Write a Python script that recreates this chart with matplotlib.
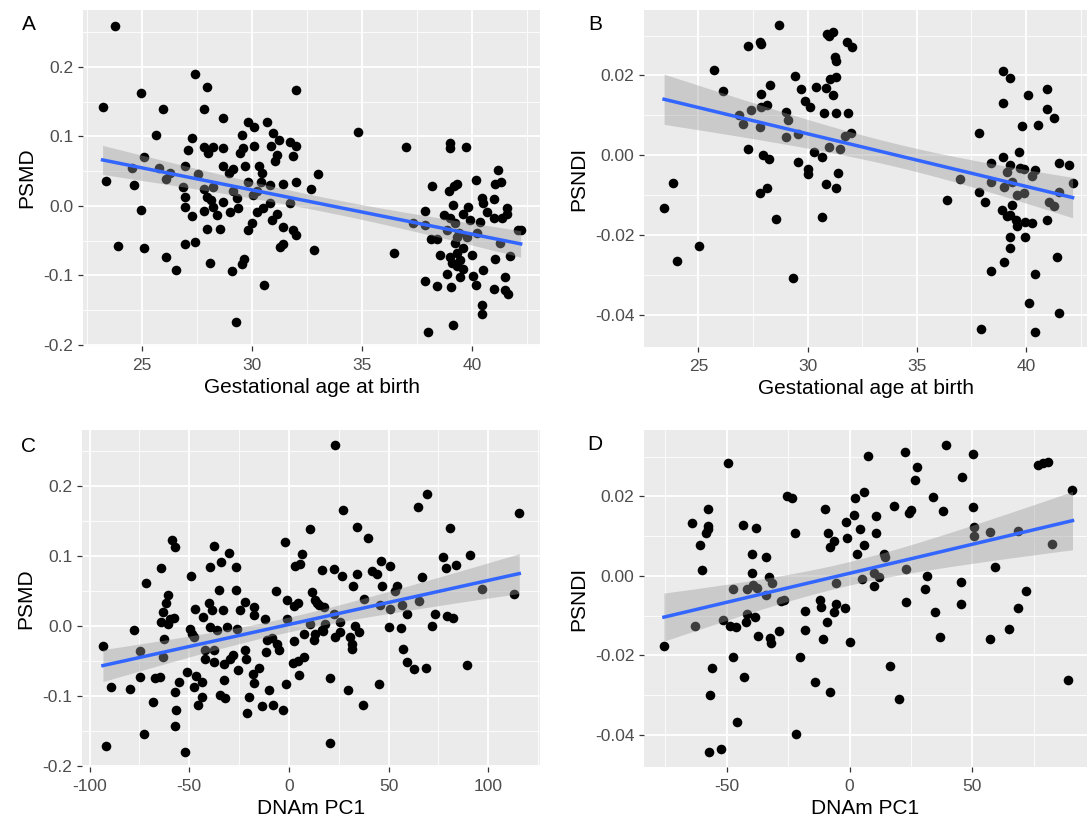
import numpy as np
import matplotlib
matplotlib.use("Agg")
import matplotlib.pyplot as plt
from matplotlib.ticker import FixedLocator

plt.rcParams['font.family'] = ['Liberation Sans', 'DejaVu Sans']

# ---------------- data ----------------
a_x = [23.77,23.21,23.36,23.92,24.53,24.65,24.95,24.95,25.09,25.09,25.64,25.79,25.95,26.08,26.27,26.10,26.53,
       26.85,26.97,26.97,26.97,26.97,27.10,27.26,27.26,27.41,27.55,27.39,27.97,27.82,27.83,28.00,28.24,28.67,
       28.67,28.67,27.82,27.94,28.14,27.82,28.24,28.39,27.97,28.55,28.09,28.67,29.00,29.11,29.27,28.94,29.12,
       29.30,29.38,29.53,29.45,29.67,29.58,29.64,29.55,29.83,30.09,30.09,29.83,29.83,29.98,30.21,30.33,30.47,
       30.39,30.48,30.55,30.67,30.97,30.85,31.23,31.05,31.12,30.82,30.82,30.89,31.12,31.39,31.42,31.27,31.39,
       31.73,31.73,32.00,31.85,32.00,32.00,31.88,32.00,32.67,33.02,32.82,30.06,29.15,30.21,28.24,
       34.83,37.00,39.00,39.00,39.73,36.44,37.30,38.17,37.88,37.86,38.12,38.39,37.85,38.42,38.00,39.15,39.03,
       38.85,38.55,38.73,38.97,39.18,39.30,39.15,39.00,39.23,39.42,39.23,39.00,39.08,39.30,39.58,39.45,39.60,
       39.60,39.83,39.90,40.02,40.03,40.17,40.18,40.44,40.52,40.36,40.48,40.45,40.44,40.67,41.02,41.02,41.05,
       41.18,41.32,41.35,41.60,41.58,41.27,41.05,41.48,41.73,41.02,41.50,41.65,42.08,42.21,40.21,39.30,39.76,
       38.85,39.30,39.45]
a_y = [0.259,0.142,0.036,-0.057,0.054,0.030,0.162,-0.006,0.071,-0.061,0.102,0.055,0.140,0.039,0.047,-0.074,-0.092,
       0.028,0.057,0.013,-0.002,-0.055,0.080,0.098,-0.015,-0.052,0.046,0.190,0.171,0.140,0.085,0.076,0.085,0.083,
       0.127,0.058,0.024,0.013,0.009,-0.007,-0.001,-0.013,-0.033,-0.033,-0.082,0.006,-0.009,-0.093,-0.167,0.047,0.053,
       0.011,-0.003,0.102,0.076,0.057,0.083,-0.077,-0.084,0.121,0.114,0.087,0.034,-0.035,-0.025,-0.009,0.057,0.048,
       0.035,-0.003,-0.114,0.121,0.105,0.087,0.095,0.064,0.073,0.030,0.004,-0.020,-0.011,0.031,-0.030,-0.059,-0.055,
       0.004,0.092,0.087,0.072,0.167,0.034,-0.035,-0.042,0.024,0.046,-0.063,0.016,0.021,0.021,0.028,
       0.106,0.085,0.090,0.083,0.085,-0.068,-0.024,0.029,-0.007,-0.028,-0.047,-0.047,-0.108,-0.115,-0.181,-0.172,-0.116,
       -0.098,-0.071,-0.013,0.022,0.029,0.031,0.001,-0.018,-0.025,-0.039,-0.054,-0.073,-0.082,-0.087,-0.090,-0.102,-0.061,
       -0.011,-0.001,-0.020,-0.070,-0.101,-0.114,0.037,0.011,0.004,-0.023,-0.092,-0.143,-0.155,-0.008,0.010,-0.018,0.032,
       0.052,0.035,-0.018,-0.003,-0.011,-0.054,-0.077,-0.102,-0.072,-0.119,-0.121,-0.126,-0.034,-0.035,-0.039,-0.044,-0.044,
       -0.035,-0.068,-0.078]

b_x = [28.69,27.29,27.82,27.85,25.70,26.13,28.28,27.85,29.43,29.70,29.89,30.11,30.39,26.88,27.02,27.40,27.85,28.13,
       27.82,29.00,29.12,29.00,29.55,27.29,27.98,28.25,29.58,30.00,30.03,30.30,27.82,28.16,28.57,29.31,23.85,23.43,
       24.01,25.03,
       30.88,31.15,31.00,31.26,31.29,30.85,31.15,31.03,31.29,30.73,31.29,31.87,31.82,32.03,31.98,31.72,31.00,31.46,
       30.65,31.41,30.85,31.29,30.65,37.84,38.94,39.28,38.94,40.10,40.97,40.97,41.26,39.81,40.55,39.66,38.94,38.41,
       39.25,39.71,39.89,40.42,40.27,39.13,41.52,41.95,42.13,41.53,41.03,41.26,36.99,38.39,38.97,39.35,36.38,37.84,
       38.10,39.58,39.89,38.89,39.35,39.28,39.13,39.55,39.58,39.96,40.27,40.95,39.28,39.96,39.28,38.97,38.41,40.42,
       41.42,40.12,41.52,37.96,40.42]
b_y = [0.0327,0.0274,0.0285,0.0278,0.0213,0.0161,0.0176,0.0153,0.0198,0.0165,0.0135,0.0122,0.0171,0.0101,0.0079,
       0.0114,0.0122,0.0126,0.0072,0.0109,0.0089,0.0047,0.0053,0.0016,0.0000,-0.0010,-0.0016,-0.0033,-0.0047,0.0008,
       -0.0094,-0.0081,-0.0160,-0.0308,-0.0069,-0.0133,-0.0264,-0.0227,
       0.0304,0.0310,0.0300,0.0247,0.0237,0.0168,0.0151,0.0190,0.0197,0.0105,0.0107,0.0107,0.0285,0.0272,0.0057,
       0.0048,0.0022,0.0015,-0.0003,-0.0045,-0.0073,-0.0081,-0.0154,0.0055,0.0210,0.0193,0.0132,0.0150,0.0166,0.0116,
       0.0093,0.0074,0.0076,0.0008,-0.0003,-0.0020,-0.0024,-0.0031,-0.0033,-0.0037,-0.0052,-0.0041,-0.0018,-0.0024,
       -0.0069,-0.0093,-0.0118,-0.0126,-0.0059,-0.0066,-0.0080,-0.0066,-0.0113,-0.0093,-0.0118,-0.0099,-0.0094,-0.0137,
       -0.0125,-0.0150,-0.0152,-0.0162,-0.0177,-0.0166,-0.0170,-0.0162,-0.0204,-0.0204,-0.0232,-0.0267,-0.0290,-0.0298,
       -0.0255,-0.0369,-0.0396,-0.0434,-0.0442]

c_x = [-93.3,-92.0,-89.1,-79.6,-77.9,-74.6,-74.9,-72.9,-71.7,-68.4,-67.1,-64.5,-64.2,-63.4,-62.5,-64.0,-63.4,-61.7,
       -60.4,-60.7,-59.5,-58.4,-57.0,-57.5,-57.0,-56.5,-57.0,-55.0,-52.3,-51.2,-49.2,-49.8,-48.8,-47.5,-47.8,-46.8,
       -47.0,-45.8,-43.6,-43.6,-43.1,-42.0,-42.0,-40.3,-39.5,-39.5,-38.5,-37.8,-37.8,-37.8,-36.1,-35.3,-34.4,-33.9,
       -33.1,-32.8,-32.4,-31.9,-31.1,-30.1,-29.4,-27.8,-26.6,-26.6,-26.1,-25.3,-24.7,-21.9,-21.9,-21.6,-21.1,-20.2,
       -17.7,-17.7,-18.1,-17.7,-15.2,-13.5,-11.9,-11.0,-11.5,-10.2,-8.5,-8.0,-6.4,-6.0,-5.2,-3.0,-1.8,-1.3,-1.0,-0.7,
       2.0,2.7,2.8,3.2,4.8,4.8,5.2,5.4,6.5,7.4,7.7,10.7,11.5,12.4,16.6,17.1,13.2,20.7,14.9,17.4,18.2,10.7,14.0,13.2,
       16.5,
       23.2,27.4,34.1,39.6,20.7,22.4,26.9,32.4,34.4,37.9,41.6,44.4,46.1,46.8,45.8,50.8,54.1,53.0,50.8,56.6,59.1,50.4,
       56.3,57.5,59.1,62.8,68.8,65.3,66.7,65.0,69.2,73.3,72.0,77.5,78.9,79.2,82.5,80.9,83.9,90.9,89.5,96.7,112.9,
       115.6,45.3,29.9,37.1,31.6,31.6,30.7,33.2,35.4,25.6,25.4,22.9,22.4]
c_y = [-0.0277,-0.171,-0.0869,-0.0897,-0.0057,-0.0353,-0.0726,-0.1547,0.0625,-0.1084,-0.0735,-0.0726,0.0826,0.0210,
       -0.0177,0.0057,-0.0440,0.0325,0.0453,0.0038,0.0100,0.1230,0.1136,0.0119,-0.0940,-0.1193,-0.1422,-0.0797,-0.1800,
       -0.0654,0.0721,-0.0033,-0.0105,-0.0153,-0.0869,-0.0711,0.0243,-0.1131,-0.1012,-0.0797,0.0134,-0.0344,-0.0463,
       0.0325,0.0850,-0.0010,0.0229,0.1150,-0.0344,-0.0511,-0.0057,0.0516,-0.0988,0.0912,0.0229,-0.0535,-0.0764,-0.1021,
       -0.0010,0.1050,-0.0463,-0.0415,0.0850,0.0516,-0.0033,-0.0621,0.0229,0.0348,-0.0344,-0.0463,-0.1241,-0.1012,
       0.0277,0.0158,-0.0678,-0.0807,-0.0597,-0.1146,0.0110,-0.0200,-0.0368,-0.0916,-0.0167,-0.1131,0.0501,-0.0248,
       -0.0344,-0.1203,0.1198,-0.0821,0.0372,0.0100,-0.0520,-0.0215,0.0291,0.0859,-0.0496,0.0334,-0.0702,0.0897,0.1026,
       -0.0105,-0.0439,0.1389,0.0492,-0.0200,0.0811,-0.0067,0.0372,-0.1666,0.0300,0.0277,0.0038,0.0038,0.0325,-0.0105,
       -0.0057,
       0.2592,0.1661,0.1413,0.1265,-0.0735,0.0816,0.0721,0.0578,0.0754,0.0396,0.0788,0.0754,0.0936,0.0573,0.0301,
       0.0859,0.0573,0.0506,0.0253,0.0301,0.0172,-0.0010,-0.0024,-0.0320,-0.0511,-0.0606,-0.0597,0.0363,0.0706,0.1699,
       0.1885,0.0181,0.0005,0.0993,0.0835,0.0148,0.0119,0.1399,0.0874,0.1017,-0.0558,0.0530,0.0458,0.1623,-0.0831,
       -0.0916,-0.1131,-0.0248,-0.0320,-0.0153,0.0000,-0.0081,0.0062,-0.0081,-0.0153,0.0172]

d_x = [-75.5,-64.2,-62.9,-60.8,-60.0,-58.5,-57.7,-57.5,-57.5,-56.8,-57.0,-55.8,-52.4,-51.4,-49.3,-48.6,-47.6,-47.3,
       -46.3,-45.9,-43.2,-43.0,-42.3,-41.9,-41.9,-39.6,-39.6,-39.2,-38.5,-38.1,-37.5,-37.1,-34.0,-34.0,-32.7,-31.7,
       -32.4,-32.0,-28.6,-28.0,-26.7,-25.3,-23.3,-22.2,-21.8,-20.2,-18.2,-18.2,-14.1,
       -9.9,-8.9,-7.9,-6.5,-11.9,-11.5,-9.2,-10.6,-7.9,-5.4,-6.5,-5.4,-1.8,0.3,-1.4,-1.1,2.0,2.4,4.1,5.7,7.5,5.7,3.0,
       5.0,9.8,10.0,11.8,10.7,10.7,14.1,14.5,16.5,20.2,17.9,22.6,23.0,23.0,24.0,25.1,26.7,27.4,31.4,30.8,34.1,34.8,
       36.9,37.9,39.3,45.3,45.3,45.9,50.4,50.4,50.7,50.7,57.2,57.2,59.2,65.0,68.7,68.7,71.8,76.8,78.9,80.9,82.2,89.0,
       90.7]
d_y = [-0.0176,0.0132,-0.0127,0.0077,0.0014,0.0108,0.0119,0.0126,0.0168,-0.0299,-0.0443,-0.0232,-0.0436,-0.0112,
       0.0285,-0.0127,-0.0204,-0.0032,-0.0128,-0.0369,0.0128,-0.0254,-0.0116,-0.0034,-0.0097,0.0056,0.0008,-0.0024,
       -0.0103,0.0121,-0.0030,-0.0152,0.0048,-0.0047,-0.0003,-0.0019,-0.0156,-0.0170,-0.0139,-0.0063,-0.0060,0.0201,
       0.0196,0.0108,-0.0397,-0.0204,-0.0089,-0.0137,-0.0267,
       0.0168,0.0109,0.0073,0.0087,-0.0061,-0.0078,-0.0117,-0.0160,-0.0292,-0.0019,-0.0092,-0.0070,-0.0080,-0.0166,
       0.0136,0.0094,0.0154,0.0195,0.0117,0.0211,0.0302,0.0077,0.0056,-0.0009,-0.0025,0.0006,-0.0003,0.0151,0.0109,
       0.0056,0.0048,-0.0227,-0.0309,0.0175,0.0312,0.0017,-0.0067,0.0157,0.0165,0.0241,0.0274,-0.0001,-0.0032,0.0199,
       -0.0092,-0.0154,0.0163,0.0329,-0.0015,-0.0072,0.0249,0.0306,0.0172,0.0123,0.0101,0.0111,-0.0160,0.0023,-0.0133,
       -0.0080,0.0113,-0.0039,0.0279,0.0283,0.0287,0.0080,-0.0263,0.0216]

ga_ticks = [25, 30, 35, 40]
pc_ticks_c = [-100, -50, 0, 50, 100]
pc_ticks_d = [-50, 0, 50]
psmd_ticks = [-0.2, -0.1, 0.0, 0.1, 0.2]
psndi_ticks = [-0.04, -0.02, 0.00, 0.02]
psmd_labels = ['-0.2', '-0.1', '0.0', '0.1', '0.2']
psndi_labels = ['-0.04', '-0.02', '0.00', '0.02']

# ---------------- figure ----------------
W, H = 1088, 826
fig = plt.figure(figsize=(W / 100, H / 100), dpi=100)

def box(l, r, t, b):
    return [l / W, 1 - b / H, (r - l) / W, (b - t) / H]

panels = [
    dict(rect=box(83, 540, 10, 346), x=a_x, y=a_y, xlim=(22.32, 43.09), ylim=(-0.2015, 0.282),
         xt=ga_ticks, xm=[22.5, 27.5, 32.5, 37.5, 42.5], yt=psmd_ticks, yl=psmd_labels,
         ym=[-0.15, -0.05, 0.05, 0.15, 0.25], xlab='Gestational age at birth', ylab='PSMD', tag='A',
         tagpos=(29, 25)),
    dict(rect=box(644, 1087, 10, 347), x=b_x, y=b_y, xlim=(22.51, 42.79), ylim=(-0.0480, 0.0364),
         xt=ga_ticks, xm=[22.5, 27.5, 32.5, 37.5, 42.5], yt=psndi_ticks, yl=psndi_labels,
         ym=[-0.03, -0.01, 0.01, 0.03], xlab='Gestational age at birth', ylab='PSNDI', tag='B',
         tagpos=(595, 25)),
    dict(rect=box(82, 540, 430, 767), x=c_x, y=c_y, xlim=(-103.8, 126.0), ylim=(-0.2014, 0.2807),
         xt=pc_ticks_c, xm=[-75, -25, 25, 75, 125], yt=psmd_ticks, yl=psmd_labels,
         ym=[-0.15, -0.05, 0.05, 0.15, 0.25], xlab='DNAm PC1', ylab='PSMD', tag='C',
         tagpos=(29, 446)),
    dict(rect=box(644, 1087, 430, 767), x=d_x, y=d_y, xlim=(-83.6, 96.6), ylim=(-0.0481, 0.0367),
         xt=pc_ticks_d, xm=[-75, -25, 25, 75], yt=psndi_ticks, yl=psndi_labels,
         ym=[-0.03, -0.01, 0.01, 0.03], xlab='DNAm PC1', ylab='PSNDI', tag='D',
         tagpos=(595, 445)),
]

T95 = 1.97

for p in panels:
    ax = fig.add_axes(p['rect'])
    ax.set_facecolor('#EBEBEB')
    for s in ax.spines.values():
        s.set_visible(False)
    ax.set_xlim(*p['xlim'])
    ax.set_ylim(*p['ylim'])
    ax.xaxis.set_major_locator(FixedLocator(p['xt']))
    ax.yaxis.set_major_locator(FixedLocator(p['yt']))
    ax.set_xticklabels([str(t) for t in p['xt']])
    ax.set_yticklabels(p['yl'])
    ax.xaxis.set_minor_locator(FixedLocator(p['xm']))
    ax.yaxis.set_minor_locator(FixedLocator(p['ym']))
    ax.grid(which='major', color='white', linewidth=1.3, zorder=0)
    ax.grid(which='minor', color='white', linewidth=0.6, zorder=0)
    ax.set_axisbelow(True)
    ax.tick_params(which='minor', length=0)
    ax.tick_params(which='major', length=3.5, width=0.9, color='#333333',
                   labelsize=12.5, labelcolor='#4D4D4D')
    ax.tick_params(axis='y', pad=3.5)
    ax.tick_params(axis='x', pad=5)

    x = np.asarray(p['x'])
    y = np.asarray(p['y'])
    ax.scatter(x, y, s=48, color='black', linewidths=0, zorder=2)

    # linear fit with 95% confidence band
    n = len(x)
    coef = np.polyfit(x, y, 1)
    xs = np.linspace(x.min(), x.max(), 80)
    yhat = np.polyval(coef, xs)
    resid = y - np.polyval(coef, x)
    s_err = np.sqrt(np.sum(resid ** 2) / (n - 2))
    sxx = np.sum((x - x.mean()) ** 2)
    se = s_err * np.sqrt(1.0 / n + (xs - x.mean()) ** 2 / sxx)
    ax.fill_between(xs, yhat - T95 * se, yhat + T95 * se, color='#999999', alpha=0.4,
                    linewidth=0, zorder=3)
    ax.plot(xs, yhat, color='#3366FF', linewidth=2.5, zorder=4)

    ax.set_xlabel(p['xlab'], fontsize=15, labelpad=4)
    ax.set_ylabel(p['ylab'], fontsize=15, labelpad=5)
    fig.text(p['tagpos'][0] / W, 1 - p['tagpos'][1] / H, p['tag'], fontsize=15,
             ha='center', va='center')

fig.savefig('out.png', dpi=100)
